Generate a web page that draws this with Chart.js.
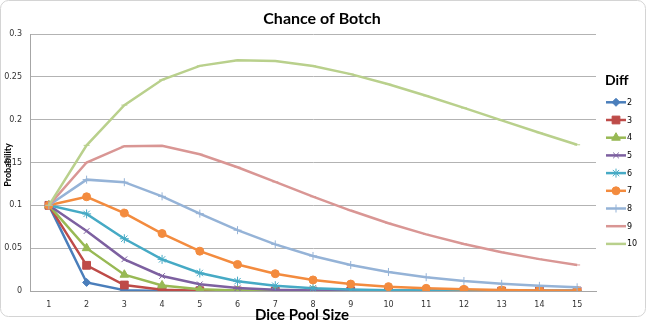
<!DOCTYPE html>
<html>
<head>
<meta charset="utf-8">
<title>Chance of Botch</title>
<script src="https://cdn.jsdelivr.net/npm/chart.js@4/dist/chart.umd.min.js"></script>
<style>
  html, body { margin: 0; padding: 0; background: #ffffff; }
  #wrap { position: relative; width: 648px; height: 324px; }
</style>
</head>
<body>
<div id="wrap"><canvas id="chart" width="648" height="324"></canvas></div>
<script>
// Dice pool sizes along the x axis
const poolSizes = ['1','2','3','4','5','6','7','8','9','10','11','12','13','14','15'];

// Probability of a botch for each difficulty, by dice pool size
const diff2  = [0.1, 0.01, 0.001, 0.0001, 0.00001, 0, 0, 0, 0, 0, 0, 0, 0, 0, 0];
const diff3  = [0.1, 0.03, 0.007, 0.0015, 0.00031, 0.000063, 0.000013, 0, 0, 0, 0, 0, 0, 0, 0];
const diff4  = [0.1, 0.05, 0.019, 0.0065, 0.0021, 0.00067, 0.00021, 0.000063, 0.000019, 0, 0, 0, 0, 0, 0];
const diff5  = [0.1, 0.07, 0.037, 0.0175, 0.0078, 0.0034, 0.0014, 0.00059, 0.00024, 0.0001, 0.00004, 0.00002, 0, 0, 0];
const diff6  = [0.1, 0.09, 0.061, 0.0369, 0.021, 0.0115, 0.0062, 0.0033, 0.0017, 0.00087, 0.00045, 0.00023, 0.00012, 0.00006, 0.00003];
const diff7  = [0.1, 0.11, 0.091, 0.0671, 0.0465, 0.031, 0.0202, 0.0129, 0.0081, 0.0051, 0.0031, 0.0019, 0.0012, 0.0007, 0.0004];
const diff8  = [0.1, 0.13, 0.127, 0.1105, 0.0903, 0.071, 0.0544, 0.0409, 0.0303, 0.0222, 0.0161, 0.0117, 0.0084, 0.006, 0.0043];
const diff9  = [0.1, 0.15, 0.169, 0.1695, 0.1596, 0.1445, 0.1274, 0.1101, 0.0939, 0.0791, 0.0661, 0.0549, 0.0453, 0.0372, 0.0304];
const diff10 = [0.1, 0.17, 0.217, 0.2465, 0.2628, 0.2693, 0.2686, 0.2627, 0.2532, 0.2413, 0.2279, 0.2137, 0.1992, 0.1848, 0.1707];

const diffLabels = ['2','3','4','5','6','7','8','9','10'];
const diffSeries = [diff2, diff3, diff4, diff5, diff6, diff7, diff8, diff9, diff10];

// y axis ticks
const yTicks = [0, 0.05, 0.1, 0.15, 0.2, 0.25, 0.3];

// Line/marker style per difficulty
const seriesStyles = [
  { color: '#4A7EBB', point: 'rectRot',  r: 4   },
  { color: '#BE4B48', point: 'rect',     r: 5.5 },
  { color: '#98B954', point: 'triangle', r: 5   },
  { color: '#7D60A0', point: 'crossRot', r: 4   },
  { color: '#46AAC5', point: 'star',     r: 4.5 },
  { color: '#F38B3E', point: 'circle',   r: 4   },
  { color: '#95B3D7', point: 'cross',    r: 4   },
  { color: '#D99694', point: 'line',     r: 3   },
  { color: '#B9D08C', point: 'line',     r: 3   }
];

const datasets = diffSeries.map((vals, i) => ({
  label: diffLabels[i],
  data: vals,
  borderColor: seriesStyles[i].color,
  backgroundColor: seriesStyles[i].color,
  pointBackgroundColor: seriesStyles[i].color,
  pointBorderColor: seriesStyles[i].color,
  pointStyle: seriesStyles[i].point,
  pointRadius: seriesStyles[i].r,
  pointBorderWidth: 1,
  borderWidth: 2.5,
  tension: 0,
  order: 100 - i
}));

const FONT = '"DejaVu Sans", Verdana, sans-serif';
const HEAD = 'Lato, "Open Sans", sans-serif';

function drawMarker(ctx, style, x, y, color) {
  ctx.save();
  ctx.fillStyle = color;
  ctx.strokeStyle = color;
  ctx.lineWidth = 1;
  if (Chart.helpers && Chart.helpers.drawPoint) {
    Chart.helpers.drawPoint(ctx, { pointStyle: style.point, radius: style.r, rotation: 0, borderWidth: 1 }, x, y);
  }
  ctx.restore();
}

const decor = {
  id: 'decor',
  beforeDraw(chart) {
    const ctx = chart.ctx;
    ctx.save();
    ctx.strokeStyle = '#d4d4d4';
    ctx.lineWidth = 1;
    ctx.beginPath();
    if (ctx.roundRect) ctx.roundRect(0.5, 0.5, 645, 316, 8); else ctx.rect(0.5, 0.5, 645, 316);
    ctx.stroke();
    ctx.restore();
  },
  afterDraw(chart) {
    const ctx = chart.ctx;
    ctx.save();
    ctx.fillStyle = '#000000';
    ctx.textAlign = 'center';
    ctx.textBaseline = 'middle';
    // chart title
    ctx.font = 'bold 16px ' + HEAD;
    ctx.fillText('Chance of Botch', 322, 19);
    // x axis title
    ctx.font = 'bold 15px ' + HEAD;
    ctx.fillText('Dice Pool Size', 302, 315);
    // y axis title
    ctx.save();
    ctx.translate(8, 165);
    ctx.rotate(-Math.PI / 2);
    ctx.font = 'bold 9px ' + HEAD;
    ctx.fillText('Probability', 0, 0);
    ctx.restore();
    // legend
    ctx.textAlign = 'left';
    ctx.font = 'bold 14px ' + HEAD;
    ctx.fillText('Diff', 605, 80);
    ctx.font = '8px ' + FONT;
    for (let i = 0; i < diffLabels.length; i++) {
      const y = 102.3 + i * 17.7;
      const st = seriesStyles[i];
      ctx.strokeStyle = st.color;
      ctx.lineWidth = 2.5;
      ctx.beginPath();
      ctx.moveTo(606, y);
      ctx.lineTo(626, y);
      ctx.stroke();
      drawMarker(ctx, st, 616, y, st.color);
      ctx.fillStyle = '#000000';
      ctx.fillText(diffLabels[i], 627, y + 0.5);
    }
    ctx.restore();
  }
};

new Chart(document.getElementById('chart'), {
  type: 'line',
  data: { labels: poolSizes, datasets },
  options: {
    responsive: false,
    animation: false,
    devicePixelRatio: 1,
    layout: { padding: { top: 34, right: 52, bottom: 0, left: 0 } },
    plugins: { legend: { display: false }, title: { display: false }, tooltip: { enabled: false } },
    scales: {
      x: {
        type: 'category',
        offset: true,
        grid: { display: false, drawTicks: false },
        border: { display: true, color: '#a6a6a6', width: 1 },
        ticks: { color: '#333333', font: { family: FONT, size: 8 }, padding: 9, maxRotation: 0, autoSkip: false },
        afterFit(scale) { scale.height = 33; }
      },
      y: {
        min: 0,
        max: 0.3,
        afterBuildTicks(scale) { scale.ticks = yTicks.map(v => ({ value: v })); },
        grid: { color: '#b3b3b3', lineWidth: 1, drawTicks: false },
        border: { display: true, color: '#a6a6a6', width: 1 },
        ticks: {
          color: '#333333',
          font: { family: FONT, size: 8 },
          padding: 8,
          callback: (v) => String(v)
        },
        afterFit(scale) { scale.width = 30; }
      }
    }
  },
  plugins: [decor]
});
</script>
</body>
</html>
